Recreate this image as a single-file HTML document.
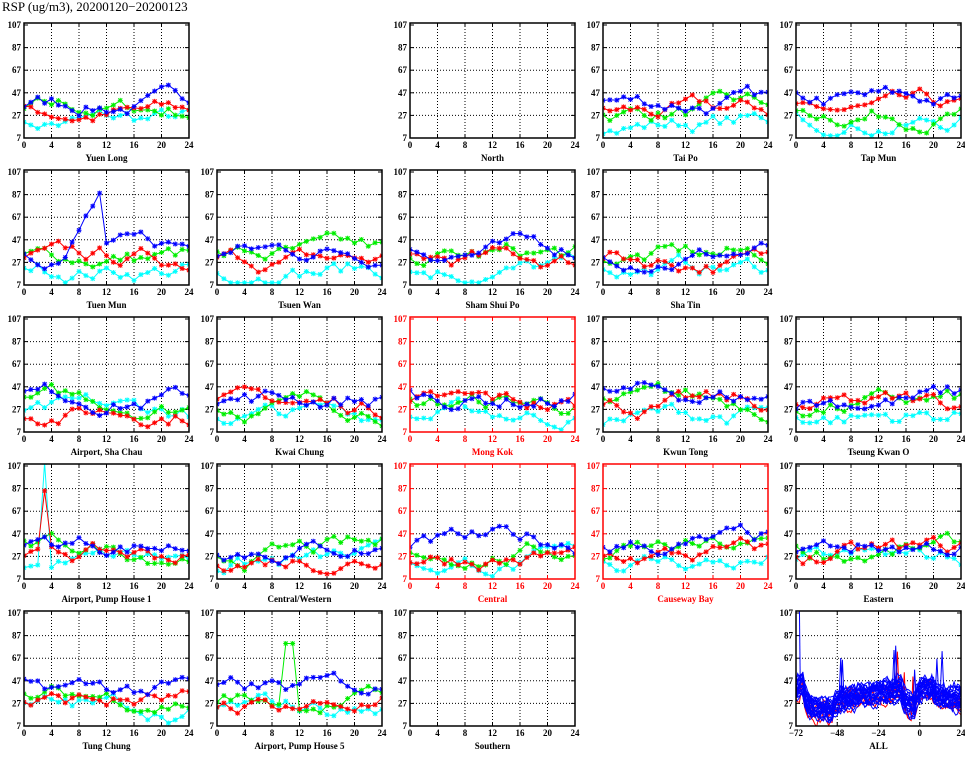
<!DOCTYPE html>
<html><head><meta charset="utf-8"><style>
body{margin:0;background:#fff;width:965px;height:755px;overflow:hidden}
svg text{font-family:"Liberation Serif",serif;font-weight:bold;font-size:9px}
</style></head><body>
<svg id="s" width="965" height="755" xmlns="http://www.w3.org/2000/svg">
<text x="2" y="11" style="font-size:13px;font-weight:normal">RSP (ug/m3), 20200120−20200123</text>
</svg>
<script>
const S=document.getElementById('s');let h='';
let seed=7;function rnd(){seed=(seed*16807)%2147483647;return seed/2147483647;}
const names=[["Yuen Long",null,"North","Tai Po","Tap Mun"],["Tuen Mun","Tsuen Wan","Sham Shui Po","Sha Tin",null],["Airport, Sha Chau","Kwai Chung","Mong Kok","Kwun Tong","Tseung Kwan O"],["Airport, Pump House 1","Central/Western","Central","Causeway Bay","Eastern"],["Tung Chung","Airport, Pump House 5","Southern",null,"ALL"]];
const redSet=["Mong Kok","Central","Causeway Bay"];
const cols=["#00ffff","#00ee00","#ff0000","#0000ff"];
function star(x,y,c){return `<path d="M${x-2.5} ${y}h5M${x} ${y-2.5}v5M${x-2} ${y-2}l4 4M${x-2} ${y+2}l4 -4" stroke="${c}" stroke-width="1"/>`;}
for(let r=0;r<5;r++)for(let c=0;c<5;c++){
 const nm=names[r][c];if(!nm)continue;
 const x0=24+193*c,w=165,yb=138+147*r,yt=yb-115;
 const red=redSet.includes(nm),fc=red?'#ff0000':'#000';
 const all=nm=="ALL";const xmin=all?-72:0,xmax=24;
 const X=v=>x0+(v-xmin)/(xmax-xmin)*w, Y=v=>yb-(v-7)*1.13;
 const xt=all?[-72,-48,-24,0,24]:[0,4,8,12,16,20,24];
 xt.forEach(v=>{if(v>xmin&&v<xmax)h+=`<line x1="${X(v)}" y1="${yt}" x2="${X(v)}" y2="${yb}" stroke="#000" stroke-width="1" stroke-dasharray="1,2"/>`;
  h+=`<line x1="${X(v)}" y1="${yb}" x2="${X(v)}" y2="${yb-4}" stroke="${fc}"/><line x1="${X(v)}" y1="${yt}" x2="${X(v)}" y2="${yt+4}" stroke="${fc}"/>`;
  h+=`<text x="${X(v)}" y="${yb+10}" text-anchor="middle" fill="${fc}">${v<0?'−'+(-v):v}</text>`;});
 [7,27,47,67,87,107].forEach(v=>{if(v>7&&v<107)h+=`<line x1="${x0}" y1="${Y(v)}" x2="${x0+w}" y2="${Y(v)}" stroke="#000" stroke-dasharray="1,2"/>`;
  h+=`<line x1="${x0}" y1="${Y(v)}" x2="${x0+4}" y2="${Y(v)}" stroke="${fc}"/><line x1="${x0+w}" y1="${Y(v)}" x2="${x0+w-4}" y2="${Y(v)}" stroke="${fc}"/>`;
  h+=`<text x="${x0-3}" y="${Y(v)+3}" text-anchor="end" fill="${fc}">${v}</text>`;});
 h+=`<text x="${x0+w/2}" y="${yb+23}" text-anchor="middle" fill="${fc}">${nm}</text>`;
 if(nm!="North"&&nm!="Southern"){
  h+=`<svg x="${x0}" y="${yt}" width="${w}" height="115" overflow="hidden"><g transform="translate(${-x0},${-yt})">`;
  if(all){
   for(let k=0;k<30;k++){const col=k<4?cols[2]:cols[3];const off=(rnd()-0.5)*18;let v=30+rnd()*20,p=[];
    for(let t=-72;t<=24;t+=1){const base=(t<-67?45:t<-50?22:t<-10?36+(t+30)*0.25:t<-2?26:t<8?42:32)+off;
     v+= (base+(rnd()-0.5)*12 - v)*0.4+(rnd()-0.5)*7; let vv=v; if(rnd()<0.004)vv+=35;p.push(X(t).toFixed(1)+','+Y(vv).toFixed(1));}
    h+=`<polyline points="${p.join(' ')}" fill="none" stroke="${col}" stroke-width="1"/>`;}
   h+=`<polyline points="${X(-70)},${Y(110)} ${X(-69.5)},${Y(40)}" stroke="#00f" fill="none"/>`;
  } else {
   for(let k=0;k<4;k++){let v=[22,30,28,38][k]+(rnd()-0.5)*14,p=[],m='';
    for(let t=0;t<=24;t++){v+=(rnd()-0.5)*14;v+=([22,32,28,38][k]-v)*0.12;v=Math.max(9,Math.min(65,v));
     let vv=v;if(nm=="Tuen Mun"&&k==3&&t>6&&t<12)vv=v+(t-6)*10;if(nm=="Airport, Pump House 1"&&t==3&&k<3)vv=k==0?110:k==2?85:v;
     if(nm=="Airport, Pump House 5"&&k==1&&(t==10||t==11))vv=80;
     p.push(X(t).toFixed(1)+','+Y(vv).toFixed(1));m+=star(X(t),Y(vv),cols[k]);}
    h+=`<polyline points="${p.join(' ')}" fill="none" stroke="${cols[k]}" stroke-width="1"/>`+m;}
  }
  h+=`</g></svg>`;}
 h+=`<rect x="${x0}" y="${yt}" width="${w}" height="115" fill="none" stroke="${fc}" stroke-width="1.5"/>`;
}
S.insertAdjacentHTML('beforeend',h);
</script>
</body></html>
